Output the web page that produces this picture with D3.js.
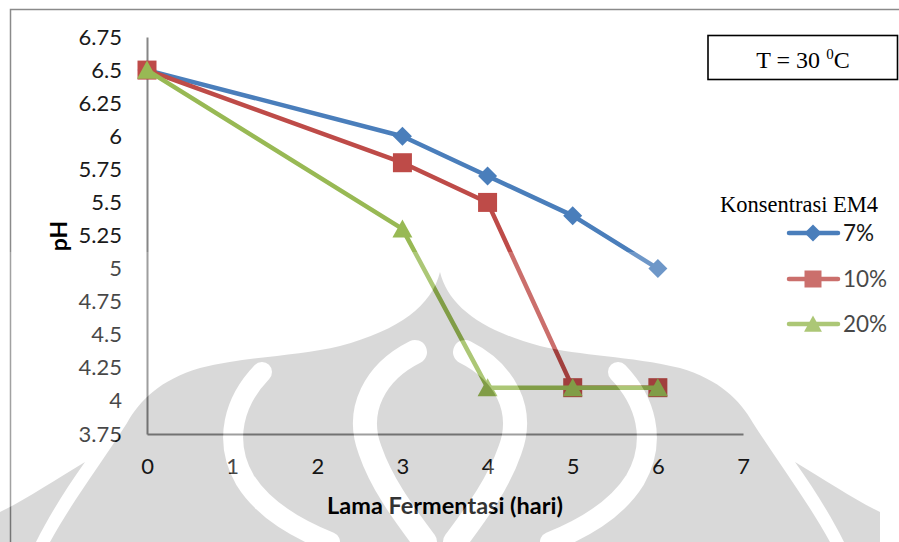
<!DOCTYPE html>
<html>
<head>
<meta charset="utf-8">
<script src="https://cdn.jsdelivr.net/npm/d3@7"></script>
<style>
  html, body { margin: 0; padding: 0; background: #fff; }
  svg { display: block; }
</style>
</head>
<body>
<svg id="chart" width="899" height="542"></svg>
<script>
// Fermentation time (days) and pH for each EM4 concentration
const days = [0, 3, 4, 5, 6];
const seriesNames = ["7%", "10%", "20%"];
const ph7 = [6.5, 6.0, 5.7, 5.4, 5.0];
const ph10 = [6.5, 5.8, 5.5, 4.1, 4.1];
const ph20 = [6.5, 5.3, 4.1, 4.1, 4.1];
const yTicks = [3.75, 4, 4.25, 4.5, 4.75, 5, 5.25, 5.5, 5.75, 6, 6.25, 6.5, 6.75];
const xTicks = [0, 1, 2, 3, 4, 5, 6, 7];

const colors = ["#4a7ebb", "#be4b48", "#98b954"];
const shapes = ["diamond", "square", "triangle"];
const seriesValues = [ph7, ph10, ph20];

const svg = d3.select("#chart");
const W = 899, H = 542;
const labelFont = "Lato, 'Open Sans', sans-serif";
const serifFont = "'Liberation Serif', 'DejaVu Serif', serif";

const x = d3.scaleLinear().domain([0, 7]).range([147, 743]);
const y = d3.scaleLinear().domain([3.75, 6.75]).range([434, 37]);

// chart frame
svg.append("path")
  .attr("d", `M10.5,${H} L10.5,9.5 L${W},9.5`)
  .attr("fill", "none").attr("stroke", "#8a8a8a").attr("stroke-width", 1.5);

// axes
const yAxis = svg.append("g").attr("transform", `translate(${x(0)},0)`)
  .call(d3.axisLeft(y).tickValues(yTicks).tickSize(0).tickSizeOuter(0).tickPadding(25)
    .tickFormat(d => String(d)));
const xAxis = svg.append("g").attr("transform", `translate(0,${y(3.75)})`)
  .call(d3.axisBottom(x).tickValues(xTicks).tickSize(0).tickSizeOuter(0).tickPadding(24)
    .tickFormat(d => String(d)));
[yAxis, xAxis].forEach(g => {
  g.select(".domain").attr("stroke", "#868686").attr("stroke-width", 2);
  g.selectAll("text").attr("font-family", labelFont).attr("font-size", 22).attr("fill", "#1a1a1a");
});

// axis titles
svg.append("text")
  .attr("x", 445).attr("y", 514)
  .attr("text-anchor", "middle")
  .attr("font-family", labelFont).attr("font-weight", "bold").attr("font-size", 23.5)
  .attr("fill", "#000")
  .text("Lama Fermentasi (hari)");
svg.append("text")
  .attr("transform", "translate(67,236) rotate(-90)")
  .attr("text-anchor", "middle")
  .attr("font-family", labelFont).attr("font-weight", "bold").attr("font-size", 23)
  .attr("fill", "#000")
  .text("pH");

// marker shapes
function markerPath(shape, s) {
  if (shape === "diamond") return `M0,${-s}L${s},0L0,${s}L${-s},0Z`;
  if (shape === "square") return `M${-s},${-s}H${s}V${s}H${-s}Z`;
  return `M0,${-s}L${s * 1.05},${s * 0.9}L${-s * 1.05},${s * 0.9}Z`;
}
const markerSize = [9.5, 9.5, 9.5];

const line = d3.line().x(d => x(d[0])).y(d => y(d[1]));

seriesValues.forEach((vals, i) => {
  const pts = days.map((d, k) => [d, vals[k]]);
  const g = svg.append("g");
  g.append("path").datum(pts)
    .attr("d", line)
    .attr("fill", "none").attr("stroke", colors[i])
    .attr("stroke-width", 4.5).attr("stroke-linejoin", "round").attr("stroke-linecap", "round");
  g.selectAll("path.m").data(pts).join("path")
    .attr("class", "m")
    .attr("transform", d => `translate(${x(d[0])},${y(d[1])})`)
    .attr("d", markerPath(shapes[i], markerSize[i]))
    .attr("fill", colors[i]);
});

// temperature note
svg.append("rect")
  .attr("x", 708).attr("y", 35.5).attr("width", 189.5).attr("height", 44)
  .attr("fill", "#fff").attr("stroke", "#000").attr("stroke-width", 1.6);
const tNote = svg.append("text")
  .attr("x", 803).attr("y", 68)
  .attr("text-anchor", "middle")
  .attr("font-family", serifFont).attr("font-size", 24).attr("fill", "#000");
tNote.append("tspan").text("T = 30 ");
tNote.append("tspan").attr("font-size", 15).attr("dy", -9).text("0");
tNote.append("tspan").attr("dy", 9).text("C");

// legend
svg.append("text")
  .attr("x", 720).attr("y", 212)
  .attr("font-family", serifFont).attr("font-size", 22.5).attr("fill", "#000")
  .text("Konsentrasi EM4");
const legendY = [233, 279, 324];
seriesNames.forEach((name, i) => {
  const g = svg.append("g").attr("transform", `translate(0,${legendY[i]})`);
  g.append("line").attr("x1", 789).attr("x2", 838).attr("y1", 0).attr("y2", 0)
    .attr("stroke", colors[i]).attr("stroke-width", 4.5).attr("stroke-linecap", "round");
  g.append("path").attr("transform", "translate(813,0)")
    .attr("d", markerPath(shapes[i], 8.5)).attr("fill", colors[i]);
  g.append("text").attr("x", 843).attr("y", 8)
    .attr("font-family", labelFont).attr("font-size", 22.5).attr("fill", "#1a1a1a")
    .text(name);
});

// emblem watermark laid over the lower part of the page
const silhouetteHalf =
  "M440,272 C432,305 400,330 340,346 C300,356 250,356 200,368 " +
  "C160,380 140,400 127,423 C100,465 70,505 50,542 L440,542 Z";
const cornerPiece = "M0,542 L0,512 C25,500 55,480 85,462 C65,490 48,518 36,542 Z";
const bandPaths = [
  "M415,352 C375,372 355,410 370,450 C382,485 405,515 425,542",
  "M262,372 C235,400 222,440 245,480 C265,512 300,530 330,542"
];
const defs = svg.append("defs");
function addShapes(sel, silFill, bandStroke) {
  [false, true].forEach(mirror => {
    const g = sel.append("g");
    if (mirror) g.attr("transform", "translate(880,0) scale(-1,1)");
    g.append("path").attr("d", silhouetteHalf).attr("fill", silFill);
    g.append("path").attr("d", cornerPiece).attr("fill", silFill);
    bandPaths.forEach((p, k) => g.append("path").attr("d", p).attr("fill", "none")
      .attr("stroke", bandStroke).attr("stroke-width", k === 0 ? 24 : 20).attr("stroke-linecap", "round"));
  });
}
const grayMask = defs.append("mask").attr("id", "grayMask");
grayMask.append("rect").attr("width", W).attr("height", H).attr("fill", "#000");
addShapes(grayMask, "#fff", "#000");
const veilMask = defs.append("mask").attr("id", "veilMask");
veilMask.append("rect").attr("width", W).attr("height", H).attr("fill", "#fff");
addShapes(veilMask, "#000", "#fff");

svg.append("rect").attr("x", 0).attr("y", 252).attr("width", W).attr("height", H - 252)
  .attr("fill", "#fff").attr("fill-opacity", 0.2).attr("mask", "url(#veilMask)");
svg.append("rect").attr("x", 0).attr("y", 252).attr("width", W).attr("height", H - 252)
  .attr("fill", "#000").attr("fill-opacity", 0.15).attr("mask", "url(#grayMask)");
</script>
</body>
</html>
